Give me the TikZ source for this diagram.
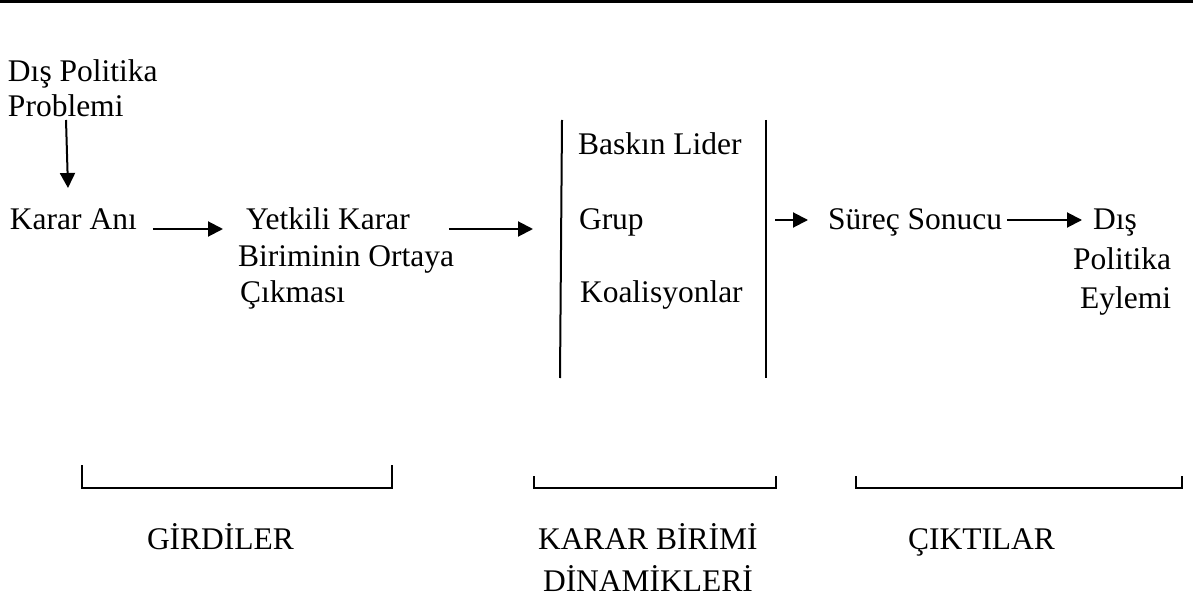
\documentclass[tikz,border=0pt]{standalone}
\usepackage{fontspec}
\setmainfont{Liberation Serif}
\usetikzlibrary{arrows.meta}
\begin{document}
\begin{tikzpicture}[x=0.5pt,y=-0.5pt,
  txt/.style={inner sep=0pt,outer sep=0pt,anchor=base west,font=\fontsize{15.75}{18}\selectfont},
  arr/.style={line width=1pt,-{Triangle[length=7.5pt,width=7.5pt]}},
  bar/.style={line width=1pt},
  brk/.style={line width=1pt}]
\useasboundingbox (0,0) rectangle (1193,609);
% top rule
\draw[line width=1.5pt] (0,2) -- (1193,2);
% texts
\node[txt] (dp1) at (8,82) {Dış Politika};
\node[txt] (prob) at (8,117) {Problemi};
\node[txt] (karar) at (10,229) {Karar Anı};
\node[txt] (yk1) at (246,229) {Yetkili Karar};
\node[txt] (yk2) at (238,266) {Biriminin Ortaya};
\node[txt] (yk3) at (240,302) {Çıkması};
\node[txt] (lider) at (578,155) {Baskın Lider};
\node[txt] (grup) at (579,229) {Grup};
\node[txt] (koal) at (580,302) {Koalisyonlar};
\node[txt] (sur) at (828,230) {Süreç Sonucu};
\node[txt] (de1) at (1093,230) {Dış};
\node[txt] (de2) at (1073,270) {Politika};
\node[txt] (de3) at (1080,308) {Eylemi};
\node[txt] (gir) at (147,549) {GİRDİLER};
\node[txt] (kb1) at (538,549) {KARAR BİRİMİ};
\node[txt] (kb2) at (543,591) {DİNAMİKLERİ};
\node[txt] (cik) at (908,549) {ÇIKTILAR};
% vertical bars
\coordinate (lt) at (562,120); \coordinate (lb) at (560,378);
\coordinate (rt) at (766,120); \coordinate (rb) at (766,378);
\draw[bar] (lt) -- (lb);
\draw[bar] (rt) -- (rb);
% arrows
\draw[arr] ([xshift=29pt,yshift=-1.5pt]prob.base west) -- ([xshift=29pt,yshift=20.5pt]karar.base west);
\draw[arr] ([xshift=8pt]karar.base east) -- ([xshift=-11.5pt]yk1.base west);
\draw[arr] ([xshift=19.5pt]yk1.base east) -- ([xshift=-23pt]grup.base west);
\draw[arr] ([xshift=-26.5pt,yshift=5pt]sur.base west) -- ([xshift=-10pt,yshift=5pt]sur.base west);
\draw[arr] ([xshift=2.5pt,yshift=5pt]sur.base east) -- ([xshift=-5.5pt,yshift=5pt]de1.base west);
% brackets
\draw[brk] (82,465) -- (82,488) -- (392,488) -- (392,465);
\draw[brk] (534,476) -- (534,488) -- (776,488) -- (776,476);
\draw[brk] (856,476) -- (856,488) -- (1182,488) -- (1182,476);
\end{tikzpicture}
\end{document}
